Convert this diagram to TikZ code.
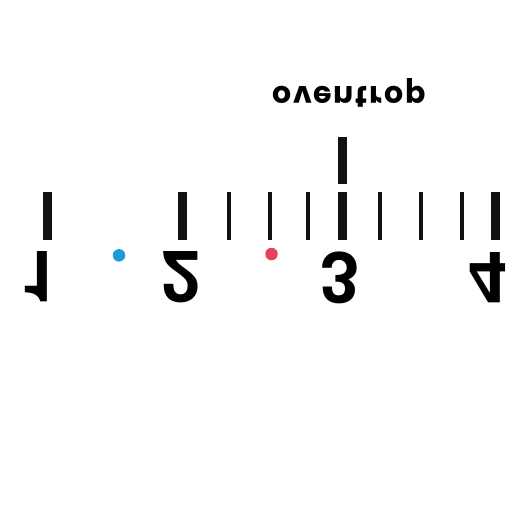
\documentclass[tikz,border=0pt]{standalone}
\usepackage{fontspec}
\setmainfont{TeX Gyre Heros}
\newfontfamily\logofont[LetterSpace=6]{Poppins}
\definecolor{tickc}{HTML}{111111}
\definecolor{dotblue}{HTML}{1B9BD7}
\definecolor{dotred}{HTML}{E6405A}
\begin{document}
\begin{tikzpicture}[x=1pt,y=-1pt,
  major/.style={fill=tickc, draw=none},
  digit/.style={font=\fontsize{71}{71}\selectfont\bfseries, inner sep=0pt, yscale=-1, anchor=center},
  dot/.style={circle, inner sep=0pt, minimum size=12.5pt, draw=none}]
\useasboundingbox (0,0) rectangle (512,512);
% major ticks
\fill[major] (42.7,192) rectangle (52.3,240);
\fill[major] (177.5,192) rectangle (186.7,240);
\fill[major] (337.7,192) rectangle (347,240);
\fill[major] (490.7,192) rectangle (500,240);
\fill[major] (337.7,136.7) rectangle (347,184.3);
% minor ticks
\foreach \x in {229,270,308,380,421,462}
  \fill[major] (\x-2.15,192) rectangle (\x+2.15,240);
% digits
\node[digit] (d1) at (40.5,277) {1};
\node[digit] (d2) at (181.7,277) {2};
\node[digit] (d3) at (340.7,277.5) {3};
\node[digit] (d4) at (488.3,277.5) {4};
% dots
\node[dot, fill=dotblue] (b) at (119,255.3) {};
\node[dot, fill=dotred] (r) at (271.5,254) {};
% logo
\node[inner sep=0pt, yscale=-1, anchor=center, font=\logofont\fontsize{30}{30}\selectfont\bfseries] (logo) at (349,93) {oventrop};
\end{tikzpicture}
\end{document}
